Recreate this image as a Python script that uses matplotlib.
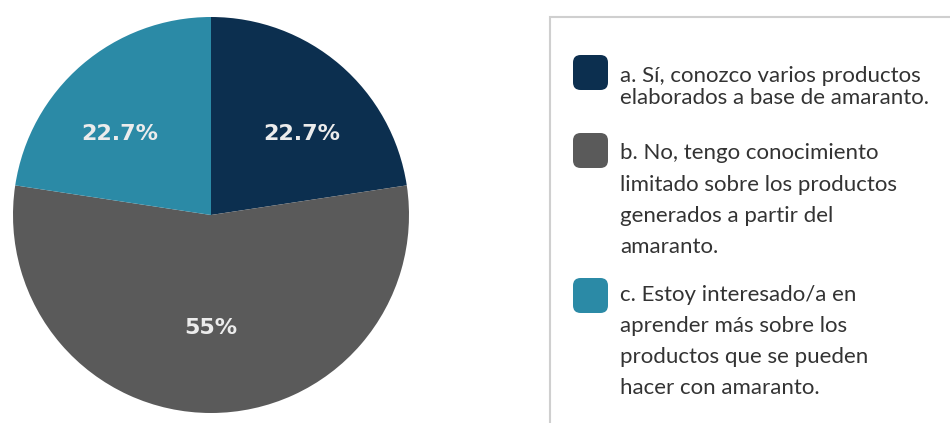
import matplotlib
matplotlib.use("Agg")
import matplotlib.pyplot as plt
from matplotlib.patches import FancyBboxPatch, Rectangle
import numpy as np

W, H = 950, 423

labels = [
    ["a. Sí, conozco varios productos", "elaborados a base de amaranto."],
    ["b. No, tengo conocimiento", "limitado sobre los productos",
     "generados a partir del", "amaranto."],
    ["c. Estoy interesado/a en", "aprender más sobre los",
     "productos que se pueden", "hacer con amaranto."],
]
values = [22.7, 55, 22.7]
pct_text = ["22.7%", "55%", "22.7%"]
colors = ["#0c2f4f", "#5a5a5a", "#2b8aa6"]

fig = plt.figure(figsize=(W / 100, H / 100), dpi=100)
fig.patch.set_facecolor("white")


def fx(x):
    return x / W


def fy(y):
    return 1 - y / H


# pie
cx, cy, r = 211, 215, 198
ax = fig.add_axes([fx(cx - r), fy(cy + r), 2 * r / W, 2 * r / H])
wedges, _ = ax.pie(values, colors=colors, startangle=90, counterclock=False,
                   radius=1.0, wedgeprops=dict(linewidth=0))
ax.set_xlim(-1, 1)
ax.set_ylim(-1, 1)
ax.set_aspect("auto")
ax.axis("off")

# percentage labels: radial distance and a small angular nudge per wedge
dists = [0.615, 0.57, 0.615]
nudges = [-7.5, 0.0, 7.5]
for w, txt, d, nd in zip(wedges, pct_text, dists, nudges):
    ang = np.deg2rad((w.theta1 + w.theta2) / 2 + nd)
    ax.text(d * np.cos(ang), d * np.sin(ang), txt, ha="center", va="center",
            color="#ececec", fontsize=16, fontweight="bold", family="DejaVu Sans")

# legend frame
fig.patches.append(Rectangle((fx(550), fy(440)), fx(420), 1.0, transform=fig.transFigure,
                             facecolor="white", edgecolor="#cfcfcf", linewidth=1.5))

swatch_tops = [55, 133, 278]
line_ys = [[76, 98], [153, 185, 216, 247], [295, 326, 357, 388]]
for top, color, lines, ys in zip(swatch_tops, colors, labels, line_ys):
    fig.patches.append(FancyBboxPatch((fx(573), fy(top + 35)), fx(35), 35 / H,
                                      boxstyle="round,pad=0,rounding_size=0.008",
                                      transform=fig.transFigure, facecolor=color,
                                      edgecolor="none", mutation_aspect=W / H))
    for text, y in zip(lines, ys):
        fig.text(fx(620), fy(y), text, ha="left", va="center", fontsize=16,
                 color="#333333", family="Lato")

fig.savefig("out.png", dpi=100, facecolor="white")
